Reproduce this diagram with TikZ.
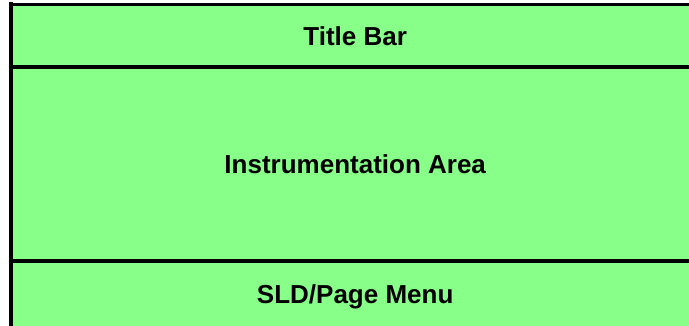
\documentclass[tikz,border=0pt]{standalone}
\usepackage{fontspec}
\setmainfont{Liberation Sans}
\usetikzlibrary{positioning}
\definecolor{cPanel}{HTML}{88FF88}
\tikzset{
  band/.style={
    fill=cPanel,
    inner sep=0pt,
    minimum width=684pt,
    text height=19pt,
    text depth=0pt,
    font=\fontsize{26}{30}\selectfont\bfseries
  },
  rule/.style={
    draw=black,
    line width=#1
  },
  rule/.default=4pt
}

\begin{document}
\begin{tikzpicture}[x=1pt, y=-1pt]
  \useasboundingbox (0,0) rectangle (689,326);

  \node[band, minimum height=62.5pt, anchor=north west] (titlebar) at (13,4.5) {Title Bar};
  \node[band, minimum height=193pt, below=0pt of titlebar] (instrarea) {Instrumentation Area};
  \node[band, minimum height=65.5pt, below=0pt of instrarea] (sldmenu) {SLD/Page Menu};

  \draw[rule=3pt] ([xshift=-4pt]titlebar.north west) -- (titlebar.north east);
  \draw[rule] (titlebar.south west) -- (titlebar.south east);
  \draw[rule] (instrarea.south west) -- (instrarea.south east);
  \draw[rule=1pt] (sldmenu.south west) -- (sldmenu.south east);
  \draw[rule] ([xshift=-2pt,yshift=2.5pt]titlebar.north west) -- ([xshift=-2pt,yshift=-1pt]sldmenu.south west);
\end{tikzpicture}
\end{document}
